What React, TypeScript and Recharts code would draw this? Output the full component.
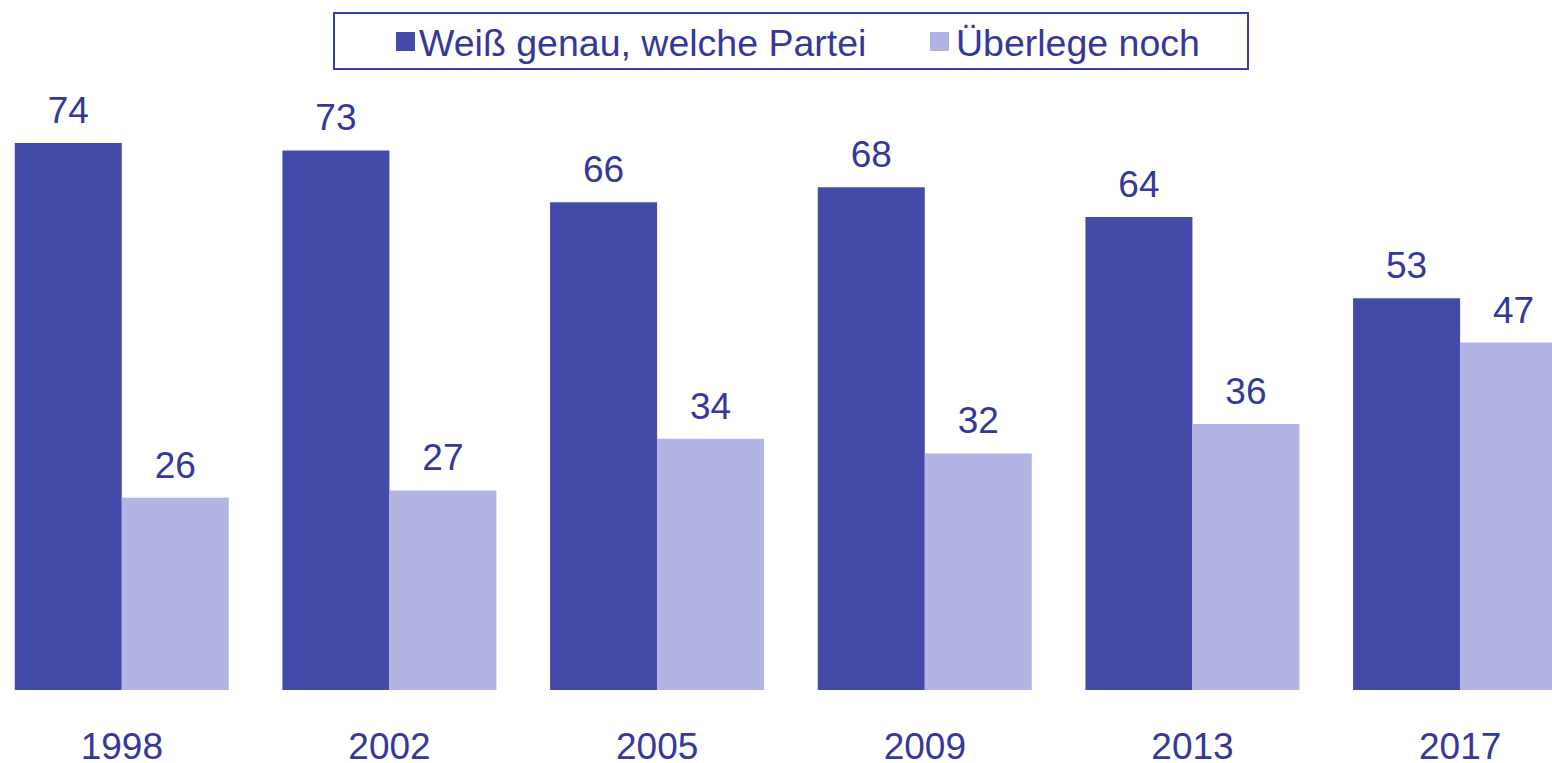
import React from "react";
import { BarChart, Bar, XAxis, YAxis, LabelList } from "recharts";

const years = ["1998", "2002", "2005", "2009", "2013", "2017"];
const decided = [74, 73, 66, 68, 64, 53];
const undecided = [26, 27, 34, 32, 36, 47];
const seriesNames = ["Weiß genau, welche Partei", "Überlege noch"];
const seriesColors = ["#434AA8", "#B2B4E3"];
const textColor = "#35389A";
const FONT = "'Liberation Sans', Arial, sans-serif";

const data = years.map((y, i) => ({ year: y, a: decided[i], b: undecided[i] }));

export default function App() {
  return (
    <div
      style={{
        position: "absolute",
        left: 0,
        top: 0,
        width: 1552,
        height: 763,
        overflow: "hidden",
        background: "#fff",
        fontFamily: FONT,
      }}
    >
      <div style={{ position: "absolute", left: -12, top: 0 }}>
        <BarChart
          width={1606}
          height={763}
          data={data}
          margin={{ top: 143, right: 0, bottom: 0, left: 0 }}
          barCategoryGap="10%"
          barGap={0}
        >
          <XAxis
            dataKey="year"
            axisLine={false}
            tickLine={false}
            tickSize={0}
            tickMargin={43}
            height={73}
            interval={0}
            tick={{ fill: textColor, fontSize: 37, fontFamily: FONT }}
          />
          <YAxis hide domain={[0, 74]} allowDataOverflow />
          <Bar dataKey="a" name={seriesNames[0]} fill={seriesColors[0]} isAnimationActive={false}>
            <LabelList dataKey="a" position="top" offset={20} fill={textColor} fontSize={37} fontFamily={FONT} />
          </Bar>
          <Bar dataKey="b" name={seriesNames[1]} fill={seriesColors[1]} isAnimationActive={false}>
            <LabelList dataKey="b" position="top" offset={20} fill={textColor} fontSize={37} fontFamily={FONT} />
          </Bar>
        </BarChart>
      </div>
      <div
        style={{
          position: "absolute",
          left: 333,
          top: 12,
          width: 916,
          height: 58,
          boxSizing: "border-box",
          border: "2px solid #3A3E9E",
        }}
      >
        {seriesNames.map((name, i) => {
          const sq = i === 0 ? 61 : 595;
          const tx = i === 0 ? 84 : 621;
          return (
            <React.Fragment key={name}>
              <div
                style={{
                  position: "absolute",
                  left: sq,
                  top: 18,
                  width: 19,
                  height: 19,
                  background: seriesColors[i],
                }}
              />
              <div
                style={{
                  position: "absolute",
                  left: tx,
                  top: 9,
                  fontSize: 37.5,
                  lineHeight: "41px",
                  color: textColor,
                  whiteSpace: "nowrap",
                  fontFamily: FONT,
                }}
              >
                {name}
              </div>
            </React.Fragment>
          );
        })}
      </div>
    </div>
  );
}
